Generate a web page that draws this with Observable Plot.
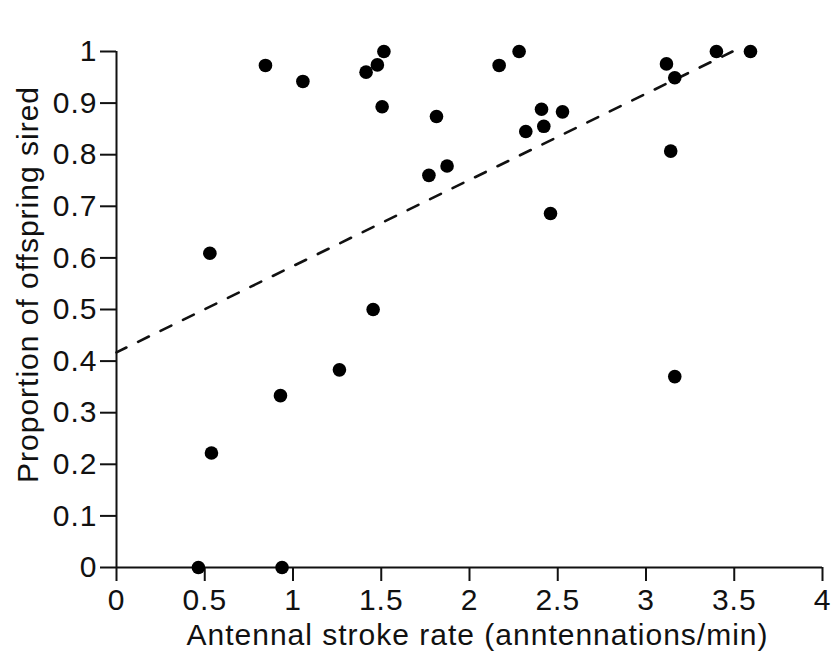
<!DOCTYPE html>
<html>
<head>
<meta charset="utf-8">
<script src="https://cdn.jsdelivr.net/npm/d3@7"></script>
<script src="https://cdn.jsdelivr.net/npm/@observablehq/plot@0.6"></script>
<style>
  html, body { margin: 0; padding: 0; background: #fff; }
  #chart { width: 838px; height: 655px; }
</style>
</head>
<body>
<div id="chart"></div>
<script>
// Antennal stroke rate (x) and proportion of offspring sired (y)
const strokeRate = [0.464, 0.938, 0.529, 0.538, 0.929, 1.263, 1.454, 0.844, 1.056, 1.414,
                    1.478, 1.515, 1.505, 1.813, 2.168, 2.281, 2.408, 2.527, 2.421, 2.319,
                    1.873, 1.770, 2.459, 3.116, 3.163, 3.399, 3.592, 3.140, 3.163];
const proportion = [0, 0, 0.609, 0.222, 0.333, 0.383, 0.5, 0.973, 0.942, 0.960,
                    0.974, 1.0, 0.893, 0.874, 0.973, 1.0, 0.888, 0.883, 0.855, 0.845,
                    0.778, 0.760, 0.686, 0.976, 0.949, 1.0, 1.0, 0.807, 0.370];
// fitted regression line end points
const fitX = [0, 3.49];
const fitY = [0.417, 1.0];
// ticks
const xTicks = [0, 0.5, 1, 1.5, 2, 2.5, 3, 3.5, 4];
const xTickLabels = ["0", "0.5", "1", "1.5", "2", "2.5", "3", "3.5", "4"];
const yTicks = [0, 0.1, 0.2, 0.3, 0.4, 0.5, 0.6, 0.7, 0.8, 0.9, 1];
const yTickLabels = ["0", "0.1", "0.2", "0.3", "0.4", "0.5", "0.6", "0.7", "0.8", "0.9", "1"];
const xLabel = "Antennal stroke rate (anntennations/min)";
const yLabel = "Proportion of offspring sired";

const points = strokeRate.map((x, i) => ({x, y: proportion[i]}));
const fit = fitX.map((x, i) => ({x, y: fitY[i]}));

const chart = Plot.plot({
  width: 838,
  height: 655,
  marginLeft: 116,
  marginRight: 16,
  marginTop: 51,
  marginBottom: 88,
  style: "font-family: 'Liberation Sans', Arial, Helvetica, sans-serif; letter-spacing: 1px; background: #fff; color: #111;",
  x: {domain: [0, 4]},
  y: {domain: [0, 1]},
  marks: [
    Plot.ruleY([0], {x1: 0, x2: 4, stroke: "#111", strokeWidth: 2}),
    Plot.ruleX([0], {y1: 0, y2: 1, stroke: "#111", strokeWidth: 2}),
    Plot.axisX({
      ticks: xTicks,
      tickFormat: d => xTickLabels[xTicks.indexOf(d)],
      tickSize: 14,
      tickPadding: 7,
      fontSize: 30,
      strokeWidth: 2,
      stroke: "#111",
      label: null
    }),
    Plot.axisY({
      ticks: yTicks,
      tickFormat: d => yTickLabels[yTicks.indexOf(d)],
      tickSize: 16,
      tickPadding: 3,
      fontSize: 30,
      strokeWidth: 2,
      stroke: "#111",
      label: null
    }),
    Plot.line(fit, {x: "x", y: "y", stroke: "#111", strokeWidth: 2.6, strokeDasharray: "12,13", strokeDashoffset: 1}),
    Plot.dot(points, {x: "x", y: "y", r: 6.8, fill: "#000", stroke: "none"}),
    Plot.text([xLabel], {frameAnchor: "bottom", textAnchor: "middle", lineAnchor: "middle", dx: 8, dy: 68, fontSize: 30, fill: "#111"}),
    Plot.text([yLabel], {frameAnchor: "left", textAnchor: "middle", lineAnchor: "middle", rotate: -90, dx: -88, dy: -25, fontSize: 30, fill: "#111"})
  ]
});
document.getElementById("chart").appendChild(chart);
</script>
</body>
</html>
